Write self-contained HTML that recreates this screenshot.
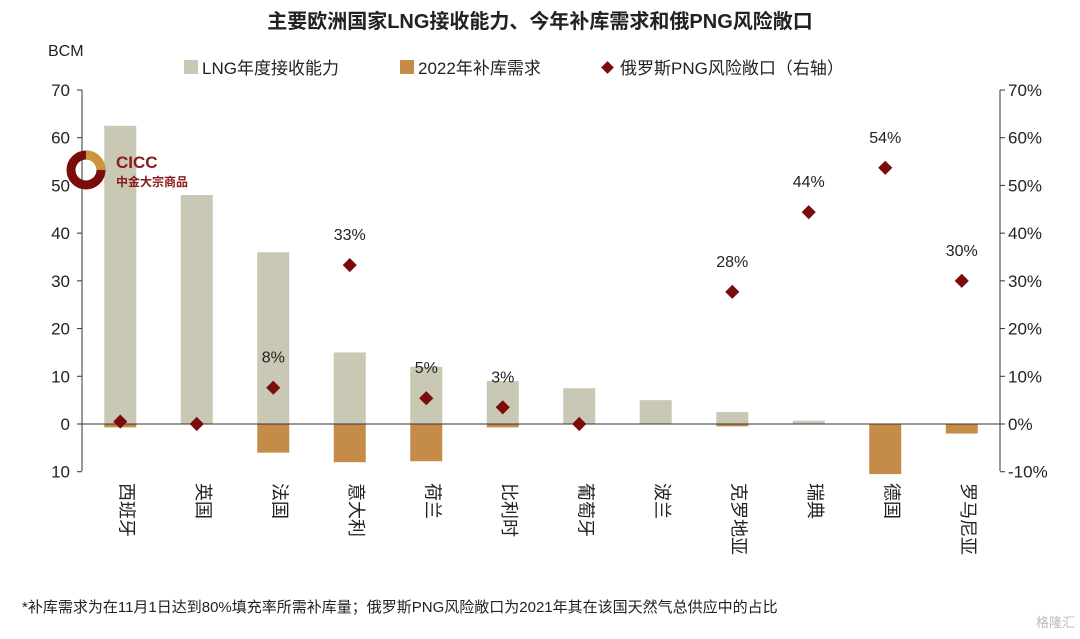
<!DOCTYPE html>
<html><head><meta charset="utf-8"><style>
body{margin:0;background:#fff;width:1080px;height:634px;overflow:hidden;font-family:"Liberation Sans","Noto Sans CJK SC",sans-serif}
svg text{font-family:"Liberation Sans","Noto Sans CJK SC",sans-serif}
</style></head><body>
<svg id="c" width="1080" height="634">
<text x="540" y="28" text-anchor="middle" font-size="20" font-weight="bold" fill="#222">主要欧洲国家LNG接收能力、今年补库需求和俄PNG风险敞口</text>
<text x="48" y="56" font-size="16" fill="#222">BCM</text>
<g>
<rect x="184" y="60" width="14" height="14" fill="#c8c8b4"/>
<text x="202" y="74" font-size="17" fill="#222">LNG年度接收能力</text>
<rect x="400" y="60" width="14" height="14" fill="#c48c48"/>
<text x="418" y="74" font-size="17" fill="#222">2022年补库需求</text>
<rect x="603" y="63" width="9" height="9" fill="#7a0c0c" transform="rotate(45 607.5 67.5)"/>
<text x="620" y="74" font-size="17" fill="#222">俄罗斯PNG风险敞口（右轴）</text>
</g>
<g id="logo">
<circle cx="86" cy="170" r="15" fill="none" stroke="#7a0c0c" stroke-width="9"/>
<path d="M86 155 A15 15 0 0 1 101 170" fill="none" stroke="#c8963c" stroke-width="9"/>
<text x="116" y="168" font-size="17" font-weight="bold" fill="#8a1a1a">CICC</text>
<text x="116" y="186" font-size="12" font-weight="bold" fill="#8a1a1a">中金大宗商品</text>
</g>
<text x="22" y="612" font-size="15" fill="#222">*补库需求为在11月1日达到80%填充率所需补库量；俄罗斯PNG风险敞口为2021年其在该国天然气总供应中的占比</text>
<text x="1075" y="627" text-anchor="end" font-size="13" fill="#bbb">格隆汇</text>
</svg>
<script>
const categories=["西班牙","英国","法国","意大利","荷兰","比利时","葡萄牙","波兰","克罗地亚","瑞典","德国","罗马尼亚"];
const lngCapacity=[62.5,48,36,15,12,9,7.5,5,2.5,0.7,0,0];
const refillDemand=[-0.7,0,-6,-8,-7.8,-0.7,0,0,-0.5,0,-10.5,-2];
const pngExposure=[0.5,0,7.6,33.3,5.4,3.5,0,null,27.7,44.4,53.7,30];
const pngLabels=["","","8%","33%","5%","3%","","","28%","44%","54%","30%"];
const leftTicks=["70","60","50","40","30","20","10","0","10"];
const rightTicks=["70%","60%","50%","40%","30%","20%","10%","0%","-10%"];
const svg=document.getElementById('c');const NS="http://www.w3.org/2000/svg";
const x0=82,x1=1000,yTop=90,yBot=471;
const yL=v=>424-(v)*(424-yTop)/70;
const yR=v=>424-(v)*(424-yTop)/70;
const band=(x1-x0)/categories.length;
const xc=i=>x0+band*(i+0.5);
function mk(t,a){const e=document.createElementNS(NS,t);for(const k in a)e.setAttribute(k,a[k]);svg.appendChild(e);return e;}
let ax=mk('line',{x1:x0,y1:yTop,x2:x0,y2:yBot,stroke:'#333'});


ax=mk('line',{x1:x1,y1:yTop,x2:x1,y2:yBot,stroke:'#333'});


leftTicks.forEach((t,i)=>{const v=70-i*10;const y=yL(v);
mk('line',{x1:x0-5,y1:y,x2:x0,y2:y,stroke:'#333'});
mk('line',{x1:x1,y1:y,x2:x1+5,y2:y,stroke:'#333'});
let e=mk('text',{x:x0-12,y:y+6,'text-anchor':'end','font-size':17,fill:'#222'});e.textContent=t;


e=mk('text',{x:x1+8,y:y+6,'font-size':17,fill:'#222'});e.textContent=rightTicks[i];

});
const bw=32;
categories.forEach((c,i)=>{const cx=xc(i);
if(lngCapacity[i]>0){const r=mk('rect',{x:cx-bw/2,y:yL(lngCapacity[i]),width:bw,height:yL(0)-yL(lngCapacity[i]),fill:'#c8c8b4'});

}
if(refillDemand[i]<0){const r=mk('rect',{x:cx-bw/2,y:yL(0),width:bw,height:yL(refillDemand[i])-yL(0),fill:'#c48c48'});

}
const t=mk('text',{x:cx,y:483,'font-size':18,fill:'#222',style:'writing-mode:vertical-rl;text-orientation:sideways'});t.textContent=c;

});
ax=mk('line',{x1:x0,y1:yL(0),x2:x1,y2:yL(0),stroke:'#333'});


svg.appendChild(document.getElementById('logo'));
categories.forEach((c,i)=>{const v=pngExposure[i];if(v===null)return;const cx=xc(i),y=yR(v);
const m=mk('rect',{x:cx-5,y:y-5,width:10,height:10,fill:'#7a0c0c',transform:`rotate(45 ${cx} ${y})`});


if(pngLabels[i]){const t=mk('text',{x:cx,y:y-25,'text-anchor':'middle','font-size':16,fill:'#222'});t.textContent=pngLabels[i];

}});
</script>
</body></html>
